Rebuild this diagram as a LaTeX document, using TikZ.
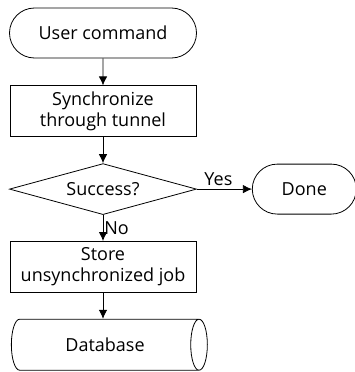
\documentclass[tikz,border=0pt]{standalone}
\usepackage{fontspec}
\setmainfont{Open Sans}
\usetikzlibrary{shapes,arrows.meta,positioning}

\begin{document}
\begin{tikzpicture}[x=1pt,y=1pt,node distance=27pt,line width=0.8pt,
    every node/.style={font=\fontsize{18}{21}\selectfont},
    term/.style={rounded rectangle,draw,minimum width=187pt,minimum height=50pt,inner sep=0pt},
    proc/.style={rectangle,draw,align=center,minimum width=186pt,minimum height=51pt,inner sep=0pt},
    decision/.style={diamond,draw,aspect=3.7,minimum width=187pt,minimum height=51pt,inner sep=0pt},
    datastore/.style={cylinder,draw,shape aspect=1.2,minimum height=196pt,minimum width=51pt,inner sep=0pt},
    flow/.style={-{Latex[length=9pt,width=8.5pt]}}]
  \useasboundingbox (0,0) rectangle (355,-372);
  \node[term] (user) at (103,-33) {User command};
  \node[proc,below=of user] (sync) {Synchronize\\through tunnel};
  \node[decision,below=26pt of sync] (success) {Success?};
  \node[term,minimum width=104pt,right=55pt of success] (done) {Done};
  \node[proc,below=26pt of success] (storejob) {Store\\unsynchronized job};
  \node[datastore,below=26pt of storejob,xshift=2pt] (db) {Database};

  \draw[flow] (user) -- (sync);
  \draw[flow] (sync) -- (success);
  \draw[flow] (success) -- node[above,inner sep=3pt,xshift=-6pt]{Yes} (done);
  \draw[flow] (success) -- node[right,inner sep=1pt]{No} (storejob);
  \draw[flow] (storejob) -- (storejob |- db.north);
\end{tikzpicture}
\end{document}
